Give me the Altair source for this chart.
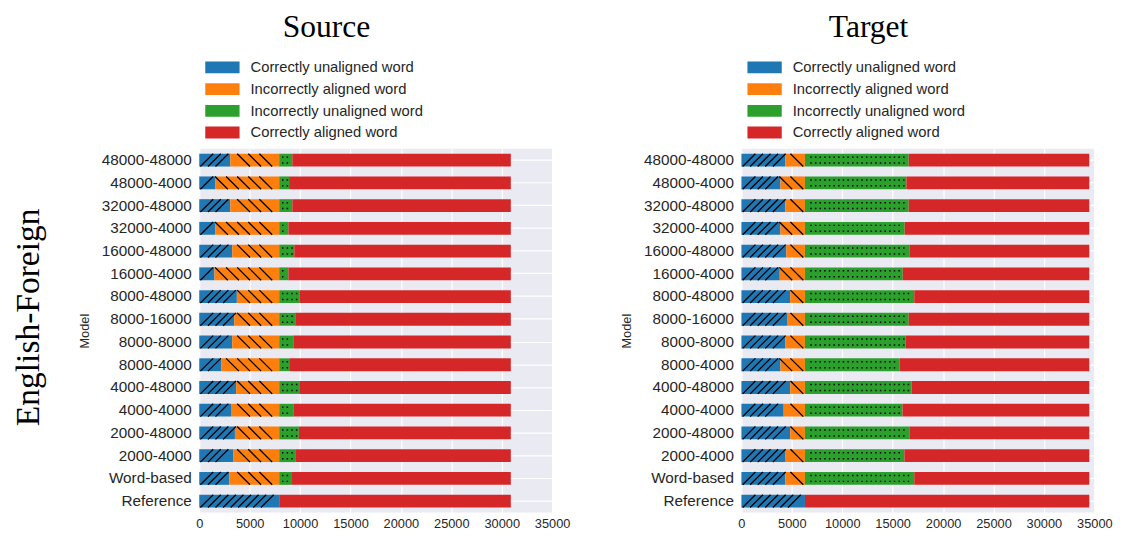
import altair as alt
import pandas as pd

models = ["48000-48000", "48000-4000", "32000-48000", "32000-4000", "16000-48000",
          "16000-4000", "8000-48000", "8000-16000", "8000-8000", "8000-4000",
          "4000-48000", "4000-4000", "2000-48000", "2000-4000", "Word-based", "Reference"]
categories = ["Correctly unaligned word", "Incorrectly aligned word",
              "Incorrectly unaligned word", "Correctly aligned word"]
colors = ["#1f77b4", "#ff7f0e", "#2ca02c", "#d62728"]
x_ticks = [0, 5000, 10000, 15000, 20000, 25000, 30000, 35000]

# Source panel values (one per model, top to bottom)
src_correctly_unaligned = [3080, 1610, 3080, 1580, 3270, 1510, 3730, 3470,
                           3270, 2170, 3660, 3150, 3540, 3400, 2980, 7930]
src_incorrectly_aligned = [4850, 6320, 4850, 6350, 4660, 6420, 4200, 4460,
                           4660, 5760, 4270, 4780, 4390, 4530, 4950, 0]
src_incorrectly_unaligned = [1300, 980, 1300, 910, 1490, 910, 2050, 1590,
                             1400, 1070, 1980, 1400, 1950, 1590, 1270, 0]
src_correctly_aligned = [21670, 21990, 21670, 22060, 21480, 22060, 20920, 21380,
                         21570, 21900, 20990, 21570, 21020, 21380, 21700, 22970]

# Target panel values
tgt_correctly_unaligned = [4350, 3870, 4350, 3870, 4450, 3800, 4840, 4580,
                           4350, 3870, 4840, 4190, 4840, 4380, 4350, 6300]
tgt_incorrectly_aligned = [1950, 2430, 1950, 2430, 1850, 2500, 1460, 1720,
                           1950, 2430, 1460, 2110, 1460, 1920, 1950, 0]
tgt_incorrectly_unaligned = [10290, 10060, 10290, 9890, 10350, 9700, 10840, 10290,
                             9960, 9400, 10580, 9670, 10350, 9860, 10840, 0]
tgt_correctly_aligned = [17910, 18140, 17910, 18310, 17850, 18500, 17360, 17910,
                         18240, 18800, 17620, 18530, 17850, 18340, 17360, 28200]


def make_df(series):
    rows = []
    for i, m in enumerate(models):
        start = 0
        for k, cat in enumerate(categories):
            v = series[k][i]
            rows.append(dict(Model=m, Category=cat, order=k, value=v, x0=start, x1=start + v))
            start += v
    return pd.DataFrame(rows)


SERIF = "Liberation Serif"
SANS = "Liberation Sans"

x_axis = alt.Axis(values=x_ticks, format="d", labelFontSize=13, labelPadding=5,
                  labelOverlap=False, labelFlush=False,
                  grid=True, gridColor="white", gridWidth=1.2)


def xenc(field):
    return alt.X(field, type="quantitative", title=None,
                 scale=alt.Scale(domain=[0, 35000], nice=False, zero=True), axis=x_axis)


def yenc():
    return alt.Y("Model:N", sort=models, title="Model",
                 scale=alt.Scale(paddingInner=0.436, paddingOuter=0.218),
                 axis=alt.Axis(labelFontSize=15.5, labelPadding=8, titleFontSize=13,
                               titleFontWeight="normal", titlePadding=10,
                               grid=True, gridColor="white", gridWidth=1.2,
                               bandPosition=0.5))


def hatch(base, cat, step, margin, shape, size, filled):
    expr = ("sequence(ceil((datum.x0 + %d) / %d) * %d, datum.x1 - %d + 1, %d)"
            % (margin, step, step, margin, step))
    layer = (base.transform_filter(alt.datum.Category == cat)
             .transform_calculate(pos=expr)
             .transform_flatten(["pos"]))
    if filled:
        mk = layer.mark_point(shape=shape, size=size, filled=True, fill="black",
                              strokeWidth=0, opacity=1)
    else:
        mk = layer.mark_point(shape=shape, size=size, filled=False, stroke="black",
                              strokeWidth=1.3, opacity=1)
    return mk.encode(x=xenc("pos"), y=yenc())


def panel(series, title):
    df = make_df(series)
    base = alt.Chart(df)
    bars = base.mark_bar(opacity=1).encode(
        x=xenc("x0"),
        x2="x1:Q",
        y=yenc(),
        color=alt.Color("Category:N", title=None,
                        scale=alt.Scale(domain=categories, range=colors),
                        legend=alt.Legend(orient="none", legendX=16, legendY=-90,
                                          direction="vertical",
                                          symbolType="M-2.9,-1L2.9,-1L2.9,1L-2.9,1Z",
                                          symbolSize=144, symbolStrokeWidth=0,
                                          symbolOpacity=1, labelOffset=21,
                                          labelFontSize=15, labelFont=SANS,
                                          labelLimit=400,
                                          labelColor="#262626", rowPadding=6)),
    )
    blue = hatch(base, categories[0], 750, 450, "M-1,1L1,-1", 169, False)
    orange = hatch(base, categories[1], 1100, 450, "M-1,-1L1,1", 169, False)
    green = hatch(base, categories[2], 460, 150,
                  "M-0.15,-0.75h0.3v0.3h-0.3z M-0.15,0.45h0.3v0.3h-0.3z", 100, True)
    return alt.layer(bars, blue, orange, green).properties(
        width=358, height=369,
        title=alt.TitleParams(title, font=SERIF, fontSize=32, fontWeight="normal",
                              color="black", anchor="middle", offset=16, dx=-50),
    )


left = panel([src_correctly_unaligned, src_incorrectly_aligned,
              src_incorrectly_unaligned, src_correctly_aligned], "Source")
right = panel([tgt_correctly_unaligned, tgt_incorrectly_aligned,
               tgt_incorrectly_unaligned, tgt_correctly_aligned], "Target")

chart = (
    alt.hconcat(left, right, spacing=50)
    .resolve_legend(color="independent")
    .resolve_scale(x="independent", y="independent")
    .properties(
        padding={"left": 4, "top": 0, "right": 5, "bottom": 0},
        title=alt.TitleParams("English-Foreign", orient="left", font=SERIF, fontSize=34,
                              fontWeight="normal", color="black", anchor="middle",
                              offset=33, dx=-47),
    )
    .configure_view(fill="#EAEAF2", strokeWidth=0)
    .configure_axis(labelFont=SANS, titleFont=SANS, labelColor="#262626",
                    titleColor="#262626", domain=False, ticks=False)
    .configure_legend(labelFont=SANS)
)

chart.save("out.html", embed_options={"renderer": "svg", "actions": False})
